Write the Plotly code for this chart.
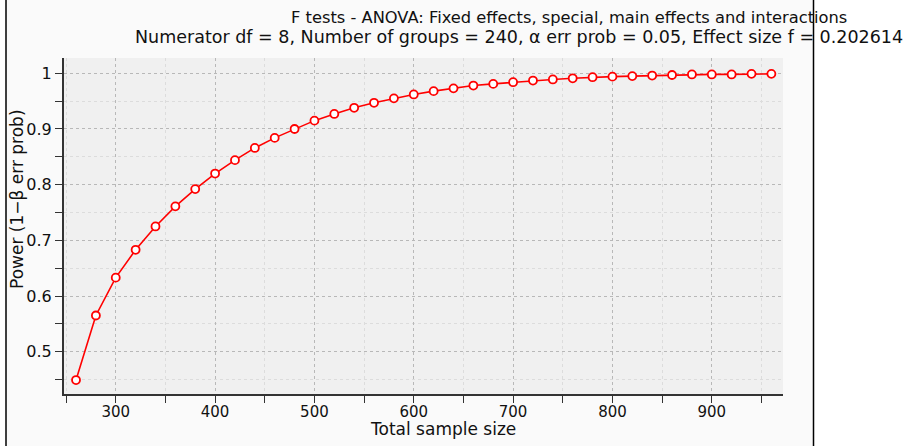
import plotly.graph_objects as go

# Data
total_sample_size = [260, 280, 300, 320, 340, 360, 380, 400, 420, 440, 460, 480,
                     500, 520, 540, 560, 580, 600, 620, 640, 660, 680, 700, 720,
                     740, 760, 780, 800, 820, 840, 860, 880, 900, 920, 940, 960]
power = [0.449, 0.565, 0.633, 0.683, 0.725, 0.761, 0.792, 0.820, 0.844, 0.866,
         0.884, 0.900, 0.915, 0.927, 0.938, 0.947, 0.955, 0.962, 0.968, 0.973,
         0.978, 0.981, 0.984, 0.987, 0.989, 0.991, 0.993, 0.994, 0.995, 0.996,
         0.997, 0.998, 0.998, 0.998, 0.999, 0.999]

title_text = "F tests - ANOVA: Fixed effects, special, main effects and interactions"
subtitle_text = ("Numerator df = 8, Number of groups = 240, \u03b1 err prob = 0.05, "
                 "Effect size f = 0.202614")
x_title = "Total sample size"
y_title = "Power (1\u2212\u03b2 err prob)"

W, H = 908, 446
L, R, T, B = 64, 783, 58, 394  # plot area in pixels
PW, PH = R - L, B - T


def px(x):
    return (x - L) / PW


def py(y):
    return (B - y) / PH


FONT = "DejaVu Sans"

fig = go.Figure()
fig.add_trace(go.Scatter(
    x=total_sample_size, y=power, mode="lines+markers",
    line=dict(color="#ff0000", width=1.6),
    marker=dict(symbol="circle", size=8, color="white",
                line=dict(color="#ff0000", width=1.8)),
    showlegend=False, hoverinfo="x+y",
))

grid_major = "#b8b8b8"
grid_minor = "#dcdcdc"

fig.update_xaxes(
    range=[247.9, 971.7], tickmode="linear", tick0=300, dtick=100,
    ticks="outside", ticklen=7, tickwidth=1.2, tickcolor="#333",
    showline=True, linecolor="#333", linewidth=1.6,
    showgrid=True, gridcolor=grid_major, griddash="dot", gridwidth=1,
    zeroline=False, ticklabelstandoff=-4,
    tickfont=dict(family=FONT, size=15, color="#111"),
    minor=dict(tick0=250, dtick=100, ticks="outside", ticklen=7, tickwidth=1.2,
               tickcolor="#333", showgrid=True, gridcolor=grid_minor,
               griddash="dot", gridwidth=1),
)
fig.update_yaxes(
    range=[0.424, 1.0275], tickmode="linear", tick0=0.5, dtick=0.1,
    ticks="outside", ticklen=7, tickwidth=1.2, tickcolor="#333",
    showline=True, linecolor="#333", linewidth=2,
    showgrid=True, gridcolor=grid_major, griddash="dot", gridwidth=1,
    zeroline=False,
    tickfont=dict(family=FONT, size=16, color="#111"),
    minor=dict(tick0=0.45, dtick=0.1, ticks="outside", ticklen=7, tickwidth=1.2,
               tickcolor="#333", showgrid=True, gridcolor=grid_minor,
               griddash="dot", gridwidth=1),
)

shapes = [
    dict(type="rect", xref="paper", yref="paper",
         x0=px(-5), x1=px(6), y0=py(H + 5), y1=py(-5),
         fillcolor="white", line=dict(width=0), layer="below"),
    dict(type="rect", xref="paper", yref="paper",
         x0=px(813), x1=px(W + 5), y0=py(H + 5), y1=py(-5),
         fillcolor="white", line=dict(width=0), layer="below"),
    dict(type="line", xref="paper", yref="paper",
         x0=px(6), x1=px(6), y0=py(H + 5), y1=py(-5),
         line=dict(color="#000", width=1.5)),
    dict(type="line", xref="paper", yref="paper",
         x0=px(813.5), x1=px(813.5), y0=py(H + 5), y1=py(-5),
         line=dict(color="#000", width=1.5)),
]

annotations = [
    dict(text=title_text, xref="paper", yref="paper", x=px(569), y=py(18),
         xanchor="center", yanchor="middle", showarrow=False,
         font=dict(family=FONT, size=16.3, color="#111")),
    dict(text=subtitle_text, xref="paper", yref="paper", x=px(519), y=py(37),
         xanchor="center", yanchor="middle", showarrow=False,
         font=dict(family=FONT, size=17.5, color="#111")),
    dict(text=x_title, xref="paper", yref="paper", x=px(443), y=py(429),
         xanchor="center", yanchor="middle", showarrow=False,
         font=dict(family=FONT, size=17, color="#111")),
    dict(text=y_title, xref="paper", yref="paper", x=px(17), y=py(199),
         xanchor="center", yanchor="middle", showarrow=False, textangle=-90,
         font=dict(family=FONT, size=17, color="#111")),
]

fig.update_layout(
    width=W, height=H,
    margin=dict(l=L, r=W - R, t=T, b=H - B, pad=0),
    paper_bgcolor="#fafafa", plot_bgcolor="#f0f0f0",
    shapes=shapes, annotations=annotations,
    font=dict(family=FONT, size=14, color="#111"),
)

fig.write_html(
    "out.html",
    config={"displayModeBar": False},
    post_script="document.body.style.margin='0';document.body.style.padding='0';"
                "document.body.style.overflow='hidden';",
)
